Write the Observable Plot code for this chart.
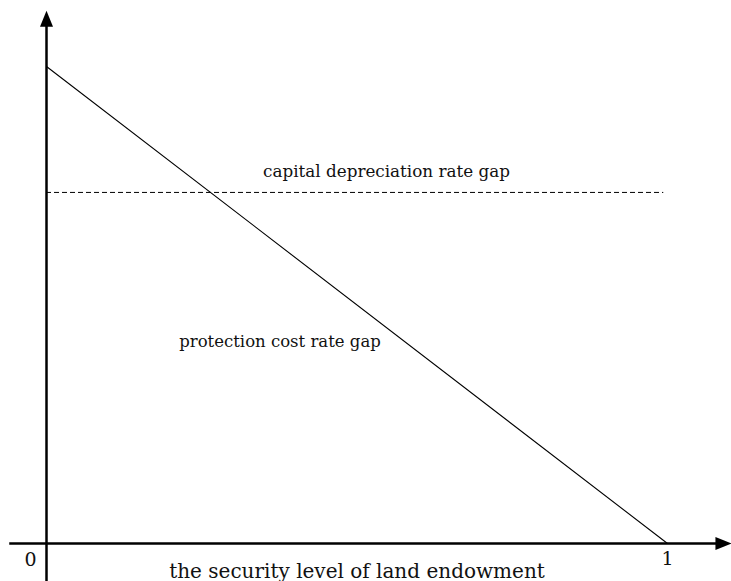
<!DOCTYPE html>
<html><head><meta charset="utf-8">
<script src="https://cdn.jsdelivr.net/npm/d3@7"></script>
<script src="https://cdn.jsdelivr.net/npm/@observablehq/plot@0.6"></script>
<style>
body{margin:0;background:#fff;}
svg{display:block;}
</style>
</head><body><div id="chart"></div>
<script>
// data
const security = [0, 1];            // security level of land endowment
const protectionGap = [1, 0];       // protection cost rate gap
const depreciationGap = [0.736];    // capital depreciation rate gap (constant)
const dashedExtent = [0, 0.994];
const tickValues = [0, 1];
const tickLabels = ["0", "1"];
const seriesLabels = ["capital depreciation rate gap", "protection cost rate gap"];
const axisTitle = "the security level of land endowment";

const lineData = security.map((s, i) => ({x: s, y: protectionGap[i]}));

// narrow filled arrowhead, tip at origin pointing up
const arrowHead = {
  draw(context) {
    context.moveTo(0, 0);
    context.lineTo(6.5, 16);
    context.lineTo(-6.5, 16);
    context.closePath();
  }
};

const font = "'DejaVu Serif', 'Liberation Serif', serif";

const chart = Plot.plot({
  width: 731,
  height: 581,
  x: {domain: [0, 1], range: [46, 667], axis: null},
  y: {domain: [0, 1], range: [543, 66], axis: null},
  style: {fontFamily: font, background: "#fff", color: "#111"},
  marks: [
    // axes
    Plot.link([0], {x1: -0.06, x2: 1.09, y1: 0, y2: 0, stroke: "#000", strokeWidth: 2.5}),
    Plot.link([0], {x1: 0, x2: 0, y1: -0.09, y2: 1.09, stroke: "#000", strokeWidth: 2.5}),
    Plot.dot([0], {x: 1.103, y: 0, symbol: arrowHead, fill: "#000", stroke: null, rotate: 90}),
    Plot.dot([0], {x: 0, y: 1.117, symbol: arrowHead, fill: "#000", stroke: null, rotate: 0}),
    // series
    Plot.ruleY(depreciationGap, {x1: dashedExtent[0], x2: dashedExtent[1], stroke: "#000", strokeWidth: 1, strokeDasharray: "5,3"}),
    Plot.line(lineData, {x: "x", y: "y", stroke: "#000", strokeWidth: 1.1}),
    // labels
    Plot.text([seriesLabels[0]], {x: 0.5475, y: depreciationGap[0], text: d => d, dy: -21, fontSize: 16.8, fill: "#111"}),
    Plot.text([seriesLabels[1]], {x: 0.376, y: 0.4235, text: d => d, fontSize: 16.5, fill: "#111"}),
    Plot.text([tickValues[0]], {x: d => d, y: 0, text: () => tickLabels[0], dx: -16, dy: 16, fontSize: 19, fill: "#111"}),
    Plot.text([tickValues[1]], {x: d => d, y: 0, text: () => tickLabels[1], dy: 15, fontSize: 19, fill: "#111"}),
    Plot.text([axisTitle], {x: 0.5, y: 0, text: d => d, dy: 28, fontSize: 20, fill: "#111"})
  ]
});
document.getElementById("chart").appendChild(chart);
</script>
</body></html>
